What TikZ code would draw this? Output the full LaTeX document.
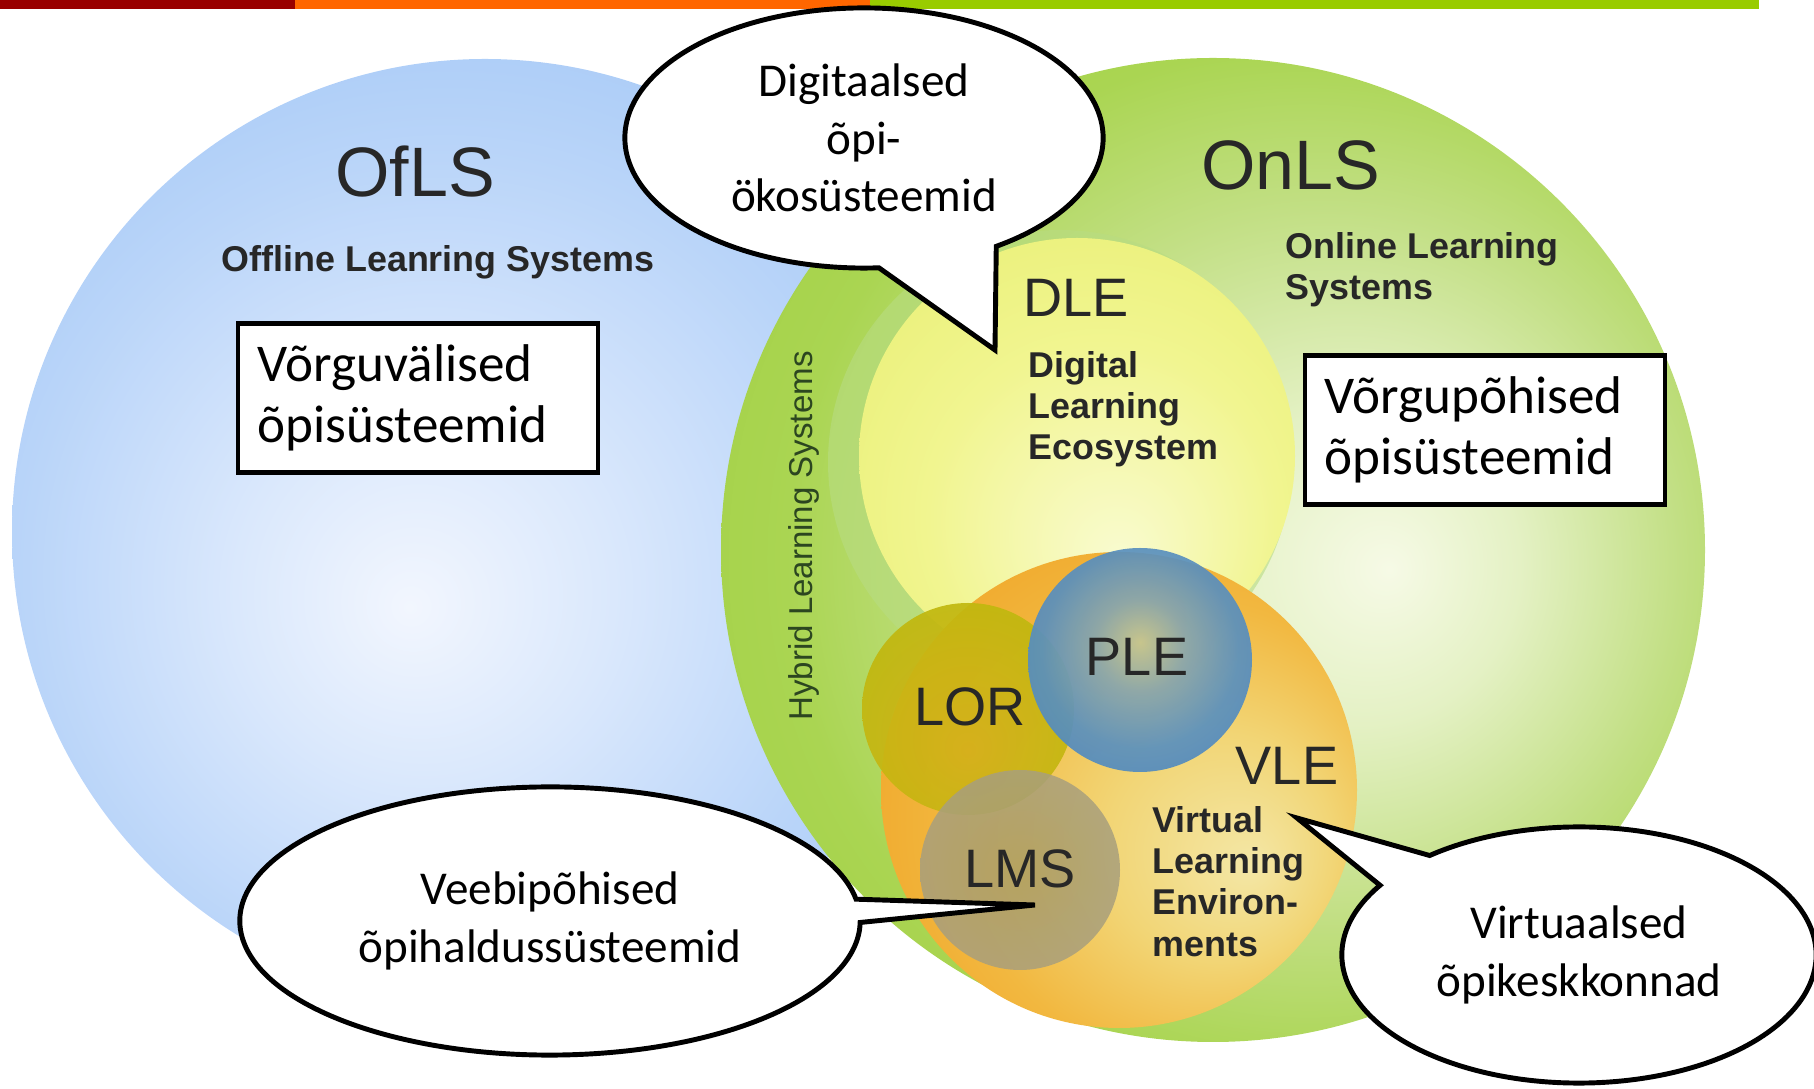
\documentclass[tikz,border=0pt]{standalone}
\usepackage{fontspec}
\setmainfont{Carlito}
\newfontfamily\arialfont{Liberation Sans}
\usetikzlibrary{positioning,shapes.callouts}

\definecolor{barred}{HTML}{990000}
\definecolor{barorange}{HTML}{FF6600}
\definecolor{bargreen}{HTML}{99CC00}
\definecolor{labelgray}{HTML}{272727}
\definecolor{hybridgreen}{HTML}{2C4620}
\definecolor{dlehalo}{HTML}{B8DC82}
% blue (offline)
\definecolor{offA}{HTML}{F2F6FE}\definecolor{offB}{HTML}{DAE8FC}
\definecolor{offC}{HTML}{BAD5F9}\definecolor{offD}{HTML}{A4C8F6}
\definecolor{offE}{HTML}{96BEF3}\definecolor{offF}{HTML}{8FB9F0}
% green (online)
\definecolor{onA}{HTML}{F6FAE6}\definecolor{onB}{HTML}{E4F1C4}
\definecolor{onC}{HTML}{C2DF84}\definecolor{onD}{HTML}{AAD552}
\definecolor{onE}{HTML}{A0CF40}\definecolor{onF}{HTML}{96C832}
% yellow (DLE)
\definecolor{dleA}{HTML}{F9FBD0}\definecolor{dleB}{HTML}{F1F590}
\definecolor{dleC}{HTML}{E8EF72}\definecolor{dleD}{HTML}{DEE966}
% orange (VLE)
\definecolor{vleA}{HTML}{F3E7A6}\definecolor{vleB}{HTML}{F2D575}
\definecolor{vleC}{HTML}{F2B840}\definecolor{vleD}{HTML}{F0A426}
\definecolor{vleE}{HTML}{EE9C1C}
% PLE, LOR, LMS
\definecolor{pleA}{HTML}{C4C692}\definecolor{pleB}{HTML}{88A6AE}
\definecolor{pleC}{HTML}{5A90BE}\definecolor{pleD}{HTML}{4381C2}
\definecolor{pleE}{HTML}{3470B4}
\definecolor{lorA}{HTML}{D4B01A}\definecolor{lorB}{HTML}{C0B80E}
\definecolor{lorC}{HTML}{B0B414}
\definecolor{lmsA}{HTML}{AC9E62}\definecolor{lmsB}{HTML}{A79F82}
\definecolor{lmsC}{HTML}{A6A292}

\pgfdeclareradialshading{offglow}{\pgfpoint{-4bp}{-4bp}}{color(0bp)=(offA); color(10bp)=(offB); color(22bp)=(offC); color(32bp)=(offD); color(42bp)=(offE); color(50bp)=(offF)}
\pgfdeclareradialshading{onglow}{\pgfpoint{9bp}{-1bp}}{color(0bp)=(onA); color(8bp)=(onB); color(18bp)=(onC); color(26bp)=(onD); color(36bp)=(onE); color(50bp)=(onF)}
\pgfdeclareradialshading{dleglow}{\pgfpoint{5bp}{-12bp}}{color(0bp)=(dleA); color(20bp)=(dleB); color(38bp)=(dleC); color(50bp)=(dleD)}
\pgfdeclareradialshading{vleglow}{\pgfpoint{14bp}{-8bp}}{color(0bp)=(vleA); color(12bp)=(vleB); color(24bp)=(vleC); color(36bp)=(vleD); color(50bp)=(vleE)}
\pgfdeclareradialshading{pleglow}{\pgfpoint{0bp}{4bp}}{color(0bp)=(pleA); color(10bp)=(pleB); color(22bp)=(pleC); color(38bp)=(pleD); color(50bp)=(pleE)}
\pgfdeclareradialshading{lorglow}{\pgfpoint{0bp}{-10bp}}{color(0bp)=(lorA); color(30bp)=(lorB); color(50bp)=(lorC)}
\pgfdeclareradialshading{lmsglow}{\pgfpoint{0bp}{0bp}}{color(0bp)=(lmsA); color(30bp)=(lmsB); color(50bp)=(lmsC)}

\begin{document}
\begin{tikzpicture}[x=0.01cm,y=-0.01cm,
  biglbl/.style={font=\arialfont\fontsize{19.9}{22}\selectfont, text=labelgray, inner sep=0pt},
  lbl/.style={font=\arialfont\fontsize{15.4}{18}\selectfont, text=labelgray, inner sep=0pt},
  sublbl/.style={font=\arialfont\bfseries\fontsize{10.2}{11.7}\selectfont, text=labelgray, inner sep=0pt, align=left},
  txtbox/.style={draw, fill=white, line width=1.2pt, align=left, inner xsep=0.2cm, inner ysep=0pt,
    text width=3.2cm, minimum width=3.6cm, minimum height=1.49cm, font=\fontsize{15.1}{17.4}\selectfont},
  bubble/.style={ellipse callout, draw, fill=white, line width=1.4pt, inner sep=0pt, align=center,
    font=\fontsize{13.4}{16.4}\selectfont, execute at begin node=\rule{0pt}{14.5pt}}]
  \useasboundingbox (0,0) rectangle (1814,1089);

  % top bar
  \fill[barred] (0,0) rectangle (295,9);
  \fill[barorange] (295,0) rectangle (870,9);
  \fill[bargreen] (870,0) rectangle (1759,9);

  % circles
  \shade[shading=offglow] (485,532) circle (473);
  \shade[shading=onglow] (1213,550) circle (492);
  \fill[dlehalo, opacity=0.6] (1060,462) circle (232);
  \shade[shading=dleglow] (1077,456) circle (218);
  \shade[shading=vleglow] (1119,790) circle (238);
  \shade[shading=lorglow, opacity=0.92] (968,709) circle (106);
  \shade[shading=lmsglow, opacity=0.85] (1020,870) circle (100);
  \shade[shading=pleglow, opacity=0.92] (1140,660) circle (112);

  % labels
  \node[biglbl, anchor=base] (ofls) at (415,197) {OfLS};
  \node[sublbl, anchor=base] (oflsname) at (438,272) {Offline Leanring Systems};
  \node[biglbl, anchor=base] (onls) at (1291,190) {OnLS};
  \node[sublbl, anchor=north west] (onlsname) at (1285,232) {Online Learning\\Systems};
  \node[font=\arialfont\fontsize{9.4}{11}\selectfont, text=hybridgreen, inner sep=0pt,
    rotate=90, anchor=base] (hybrid) at (812,536) {Hybrid Learning Systems};
  \node[lbl, anchor=base west] (dle) at (1023,317) {DLE};
  \node[sublbl, anchor=north west] (dlename) at (1028,351) {Digital\\Learning\\Ecosystem};
  \node[lbl, anchor=base] (ple) at (1137,676) {PLE};
  \node[lbl, anchor=base] (lor) at (970,726) {LOR};
  \node[lbl, anchor=base] (lms) at (1020,888) {LMS};
  \node[lbl, anchor=base] (vle) at (1287,785) {VLE};
  \node[sublbl, anchor=north west] (vlename) at (1152,806) {Virtual\\Learning\\Environ-\\ments};

  % boxes
  \node[txtbox] (offbox) at (418,398) {Võrguvälised\\õpisüsteemid};
  \node[txtbox] (onbox) at (1485,430) {Võrgupõhised\\õpisüsteemid};

  % callouts
  \coordinate (dletip) at (995,350);
  \coordinate (lmstip) at (1035,905);
  \coordinate (vletip) at (1297,818);
  \node[bubble, minimum width=4.78cm, minimum height=2.60cm,
    callout absolute pointer=(dletip), callout pointer arc=30] (ecobubble) at (864,138)
    {Digitaalsed\\õpi-\\ökosüsteemid};
  \node[bubble, minimum width=6.20cm, minimum height=2.68cm,
    callout absolute pointer=(lmstip), callout pointer arc=10] (lmsbubble) at (550,921)
    {Veebipõhised\\õpihaldussüsteemid};
  \node[bubble, minimum width=4.74cm, minimum height=2.56cm,
    callout absolute pointer=(vletip), callout pointer arc=18] (vlebubble) at (1579,955)
    {Virtuaalsed\\õpikeskkonnad};
\end{tikzpicture}
\end{document}
